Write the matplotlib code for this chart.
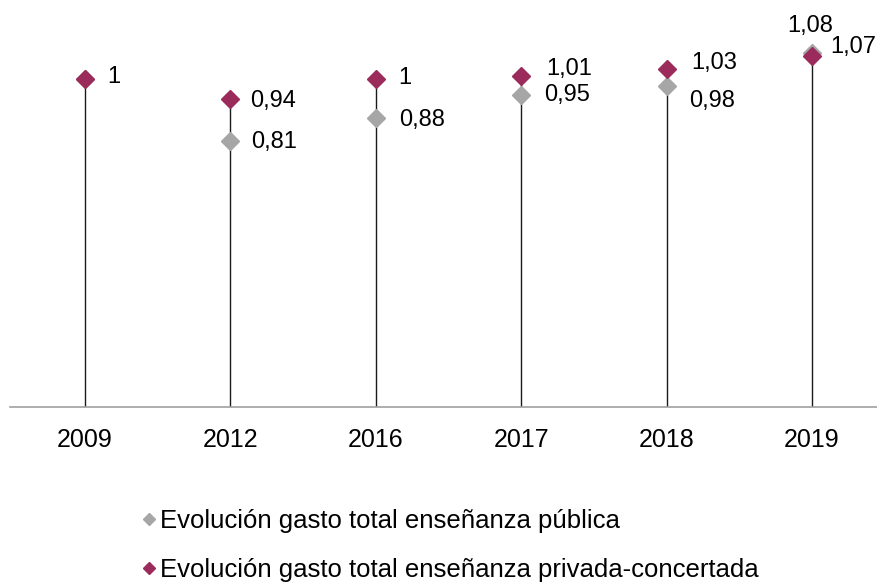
import matplotlib
matplotlib.use("Agg")
import matplotlib.pyplot as plt
from matplotlib.lines import Line2D

years = ["2009", "2012", "2016", "2017", "2018", "2019"]
publica = [1.00, 0.81, 0.88, 0.95, 0.98, 1.08]
privada = [1.00, 0.94, 1.00, 1.01, 1.03, 1.07]
pub_labels = [None, "0,81", "0,88", "0,95", "0,98", "1,08"]
priv_labels = ["1", "0,94", "1", "1,01", "1,03", "1,07"]
legend_labels = ["Evolución gasto total enseñanza pública",
                 "Evolución gasto total enseñanza privada-concertada"]

GRAY = "#a6a6a6"
RED = "#9b2b5b"

plt.rcParams['font.family'] = ['Liberation Sans', 'DejaVu Sans']

fig = plt.figure(figsize=(8.77, 5.85), dpi=100)
ax = fig.add_axes([10/877, (585-407)/585, 1 - 10/877, 1.2*328/585])
ax.set_xlim(-0.516, 5.447)
ax.set_ylim(0, 1.2)

x = list(range(len(years)))
# drop lines
for i in x:
    top = max(publica[i], privada[i]) if i != 5 else privada[i]
    ax.plot([i, i], [0, top], color="#1a1a1a", lw=1.0, zorder=1)

ax.plot(x, publica, linestyle="none", marker="D", ms=9.5, color=GRAY, zorder=2)
ax.plot(x, privada, linestyle="none", marker="D", ms=9.5, color=RED, zorder=3)

# label offsets in pixels (dx, dy)
priv_off = [(22, 2), (20, -2), (22, 1), (25, 7), (25, 6), (18, 9)]
pub_off = [(0, 0), (21, -1), (23, -2), (23, 0), (23, -15), (-2, 27)]
for i in x:
    if priv_labels[i]:
        ax.annotate(priv_labels[i], (i, privada[i]), xytext=priv_off[i],
                    textcoords="offset pixels", ha="left", va="center",
                    fontsize=17, color="black", zorder=5)
    if pub_labels[i]:
        ha = "center" if i == 5 else "left"
        ax.annotate(pub_labels[i], (i, publica[i]), xytext=pub_off[i],
                    textcoords="offset pixels", ha=ha, va="center",
                    fontsize=17, color="black", zorder=5)

ax.set_xticks(x)
ax.set_xticklabels(years, fontsize=18)
ax.tick_params(axis="x", length=0, pad=15)
ax.set_yticks([])
for s in ["top", "right", "left"]:
    ax.spines[s].set_visible(False)
ax.spines["bottom"].set_color("#a0a0a0")
ax.spines["bottom"].set_linewidth(1.2)

handles = [Line2D([], [], linestyle="none", marker="D", ms=6.0, color=GRAY),
           Line2D([], [], linestyle="none", marker="D", ms=6.0, color=RED)]
fig.legend(handles, legend_labels, loc="upper left",
           bbox_to_anchor=(143/877, 1 - 509/585), frameon=False,
           fontsize=18.5, handlelength=0.48, handletextpad=0.18,
           labelspacing=0.98, borderpad=0, borderaxespad=0)

fig.savefig("out.png", dpi=100)
